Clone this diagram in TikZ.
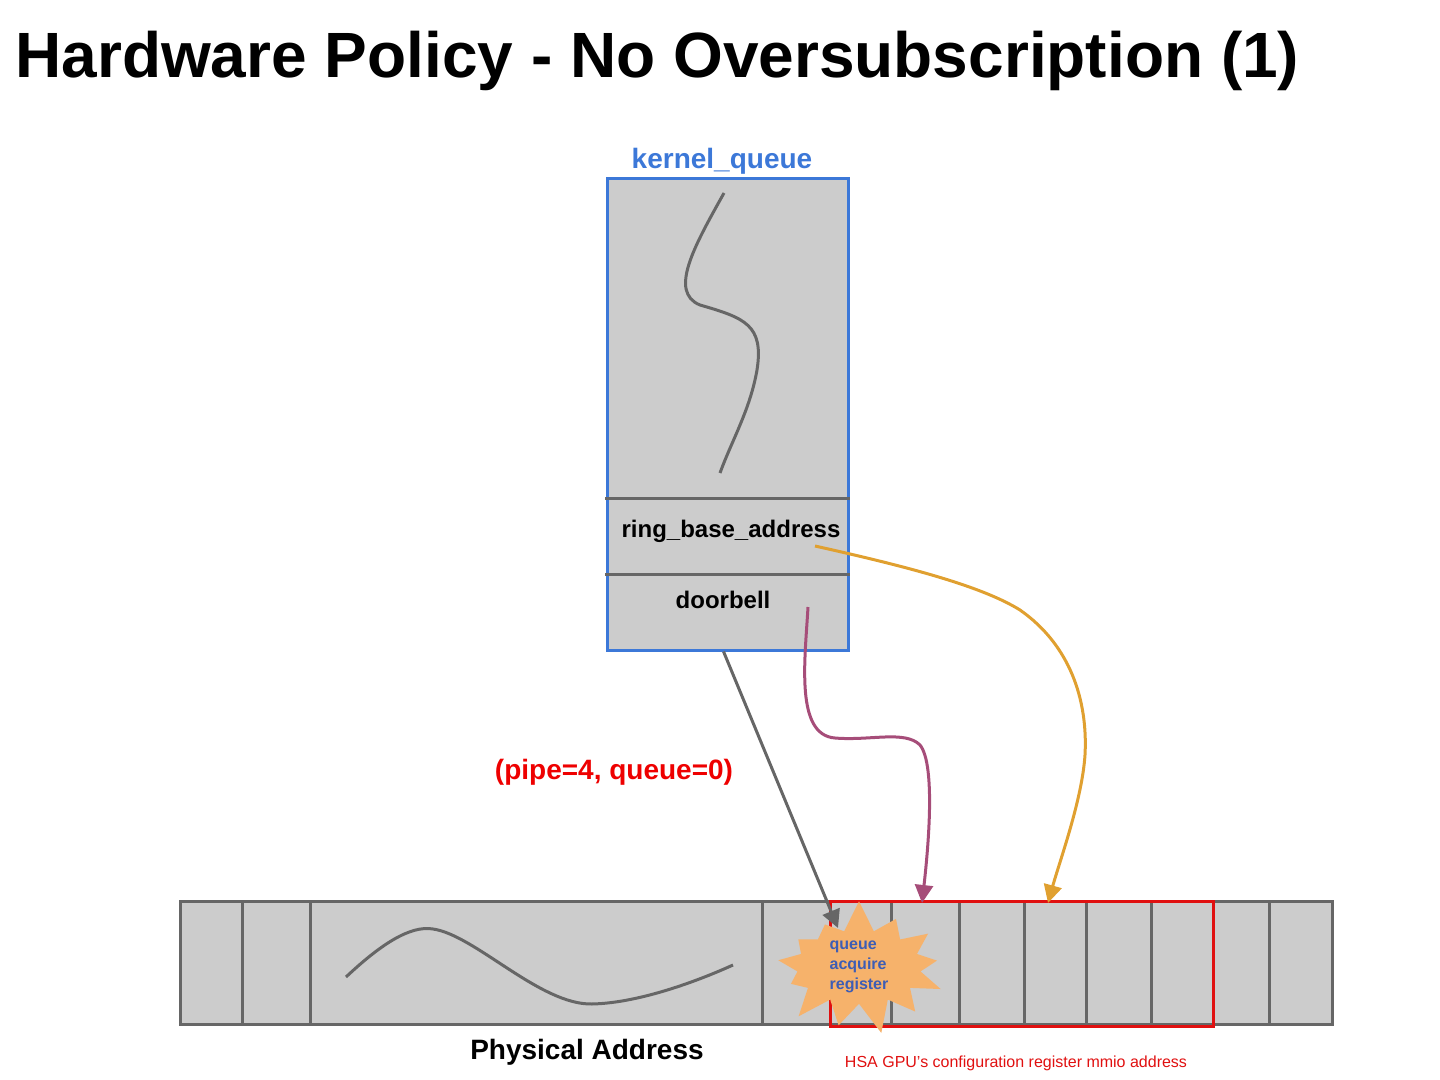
\documentclass[tikz,border=0pt]{standalone}
\usepackage{fontspec}
\setmainfont{Liberation Sans}
\usetikzlibrary{arrows.meta,shapes.symbols}
\definecolor{kqblue}{HTML}{3C78D8}
\definecolor{cellgray}{HTML}{CCCCCC}
\definecolor{linegray}{HTML}{666666}
\definecolor{plum}{HTML}{A64D79}
\definecolor{amber}{HTML}{E0A030}
\definecolor{burstorange}{HTML}{F6B26B}
\definecolor{bursttext}{HTML}{3D5DB5}
\definecolor{hotred}{HTML}{EE0000}
\definecolor{boxred}{HTML}{E01010}

\begin{document}
\begin{tikzpicture}[x=0.5pt, y=-0.5pt, >={Triangle[length=9pt,width=9pt]},
  every node/.style={inner sep=0pt},
  bigbold/.style={font=\fontsize{14}{16}\selectfont\bfseries},
  fieldtext/.style={font=\fontsize{12}{14}\selectfont\bfseries},
  wire/.style={draw=linegray, line width=1.5pt},
  link/.style={->, line width=1.5pt}]
\useasboundingbox (0,0) rectangle (1440,1080);
\node[font=\fontsize{32}{38}\selectfont\bfseries, anchor=base west] (title) at (15,78) {Hardware Policy - No Oversubscription (1)};

% kernel queue
\node[draw=kqblue, line width=1.5pt, fill=cellgray, minimum width=120.5pt, minimum height=235.5pt] (kq) at (727.5,414.5) {};
\node[bigbold, text=kqblue] (kqname) at (722,161) {kernel\_queue};
\draw[wire] (724,193) .. controls (695,245) and (668,292) .. (700,305) .. controls (745,318) and (764,325) .. (757,370) .. controls (750,410) and (732,440) .. (720,473);
\draw[wire] (605,498) -- (850,498);
\draw[wire] (605,574) -- (850,574);
\node[fieldtext] (rba) at (731,531) {ring\_base\_address};
\node[fieldtext] (db) at (723,600) {doorbell};
\coordinate (rbaout) at (815,546);
\coordinate (dbout) at (808,607);

% physical memory
\node[draw=linegray, line width=1.5pt, fill=cellgray, minimum width=576pt, minimum height=61.5pt] (mem) at (756,962.5) {};
\draw[wire] (346,977) .. controls (380,945) and (410,925) .. (433,929) .. controls (475,935) and (540,1005) .. (592,1004) .. controls (640,1003) and (700,980) .. (733,965);
\foreach \x in {242,310,762,830,891,959,1024,1086,1151,1213,1269}
  \draw[wire] (\x,901) -- (\x,1024);
\node[draw=boxred, line width=1.5pt, minimum width=191.5pt, minimum height=62.5pt] (cfg) at (1021.5,963.5) {};
\node[starburst, fill=burstorange, starburst points=13, starburst point height=16pt, random starburst=7, minimum width=94pt, minimum height=58pt, align=left, font=\fontsize{8}{10}\selectfont\bfseries, text=bursttext] (qar) at (859,967) {queue\\acquire\\register};
\coordinate (slot0) at (838,928);
\coordinate (slot1) at (922,903);
\coordinate (slot3) at (1048,903);

% connectors
\draw[link, linegray] ([xshift=-2pt]kq.south) -- (slot0);
\draw[link, plum] (dbout) .. controls (805,660) and (795,735) .. (835,738) .. controls (870,741) and (905,730) .. (920,745) .. controls (936,765) and (928,850) .. (slot1);
\draw[link, amber] (rbaout) .. controls (900,565) and (980,585) .. (1020,610) .. controls (1070,645) and (1088,700) .. (1085,755) .. controls (1082,800) and (1060,860) .. (slot3);

% labels
\node[bigbold, text=hotred] (pq) at (614,772) {(pipe=4, queue=0)};
\node[bigbold] (pa) at (587,1052) {Physical Address};
\node[font=\fontsize{8}{10}\selectfont, text=boxred] (hsa) at (1016,1063) {HSA GPU’s configuration register mmio address};
\end{tikzpicture}
\end{document}
